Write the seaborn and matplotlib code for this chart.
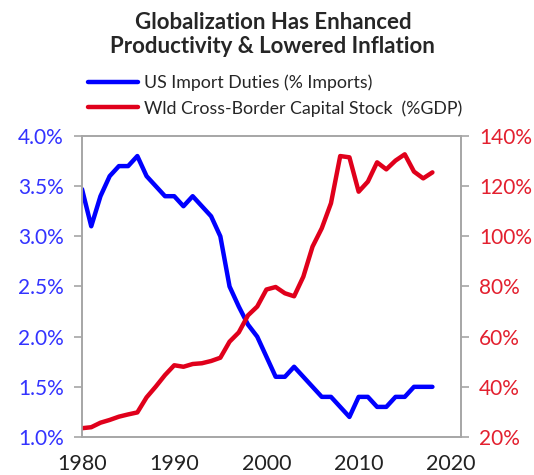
import numpy as np
import pandas as pd
import seaborn as sns
import matplotlib.pyplot as plt
from matplotlib.ticker import FuncFormatter

years = list(range(1980, 2019))
import_duties = [3.47, 3.1, 3.4, 3.6, 3.7, 3.7, 3.8, 3.6, 3.5, 3.4,
                 3.4, 3.3, 3.4, 3.3, 3.2, 3.0, 2.5, 2.3, 2.12, 2.0,
                 1.8, 1.6, 1.6, 1.7, 1.6, 1.5, 1.4, 1.4, 1.3, 1.2,
                 1.4, 1.4, 1.3, 1.3, 1.4, 1.4, 1.5, 1.5, 1.5]
capital_stock = [23.5, 23.9, 25.7, 26.8, 28.1, 29.0, 29.8, 35.8, 40.1, 44.7,
                 48.6, 48.0, 49.1, 49.4, 50.3, 51.6, 58.0, 61.7, 68.5, 72.0,
                 78.8, 79.8, 77.3, 76.1, 83.9, 95.9, 103.2, 113.2, 132.0, 131.5,
                 117.8, 121.8, 129.5, 126.7, 130.2, 132.7, 125.8, 123.1, 125.5]

df = pd.DataFrame({'Year': years, 'Duties': import_duties, 'Capital': capital_stock})

sns.set_style('white')
plt.rcParams['font.family'] = ['Lato', 'DejaVu Sans']

blue, red = '#0000ff', '#e0001b'
blue_txt, red_txt = '#3333ff', '#e3202f'
frame = '#a6a6a6'

fig = plt.figure(figsize=(5.34, 4.75), dpi=100)
ax = fig.add_axes([0.1536, 0.08, 0.7097, 0.6337])
ax2 = ax.twinx()

sns.lineplot(data=df, x='Year', y='Duties', color=blue, lw=3.2, ax=ax,
             label='US Import Duties (% Imports)', legend=False)
sns.lineplot(data=df, x='Year', y='Capital', color=red, lw=3.2, ax=ax2,
             label='Wld Cross-Border Capital Stock  (%GDP)', legend=False)

ax.set_xlim(1980, 2021.1)
ax.set_ylim(1.0, 4.0)
ax2.set_ylim(20, 140)
ax.set_xticks([1980, 1990, 2000, 2010, 2020])
ax.set_yticks(np.arange(1.0, 4.01, 0.5))
ax2.set_yticks(range(20, 141, 20))
ax.yaxis.set_major_formatter(FuncFormatter(lambda v, p: f'{v:.1f}%'))
ax2.yaxis.set_major_formatter(FuncFormatter(lambda v, p: f'{v:.0f}%'))
ax.set_xlabel('')
ax.set_ylabel('')
ax2.set_ylabel('')

for a in (ax, ax2):
    for s in a.spines.values():
        s.set_color(frame)
        s.set_linewidth(1.2)
ax.tick_params(axis='y', length=6, width=1.2, color=frame, labelsize=15,
               labelcolor=blue_txt, pad=7)
ax.tick_params(axis='x', length=6, width=1.2, color=frame, labelsize=15.5,
               labelcolor='#222222', pad=6)
ax2.tick_params(axis='y', length=6, width=1.2, color=frame, labelsize=15,
                labelcolor=red_txt, pad=7)

fig.text(0.511, 0.975, 'Globalization Has Enhanced\nProductivity & Lowered Inflation',
         ha='center', va='top', fontsize=16, fontweight='bold', linespacing=1.2)

h1, l1 = ax.get_legend_handles_labels()
h2, l2 = ax2.get_legend_handles_labels()
fig.legend(h1 + h2, l1 + l2, loc='upper left', bbox_to_anchor=(0.152, 0.858),
           frameon=False, fontsize=12.8, handlelength=2.8, handletextpad=0.35,
           labelspacing=0.5, borderaxespad=0)

fig.savefig('out.png', dpi=100)
